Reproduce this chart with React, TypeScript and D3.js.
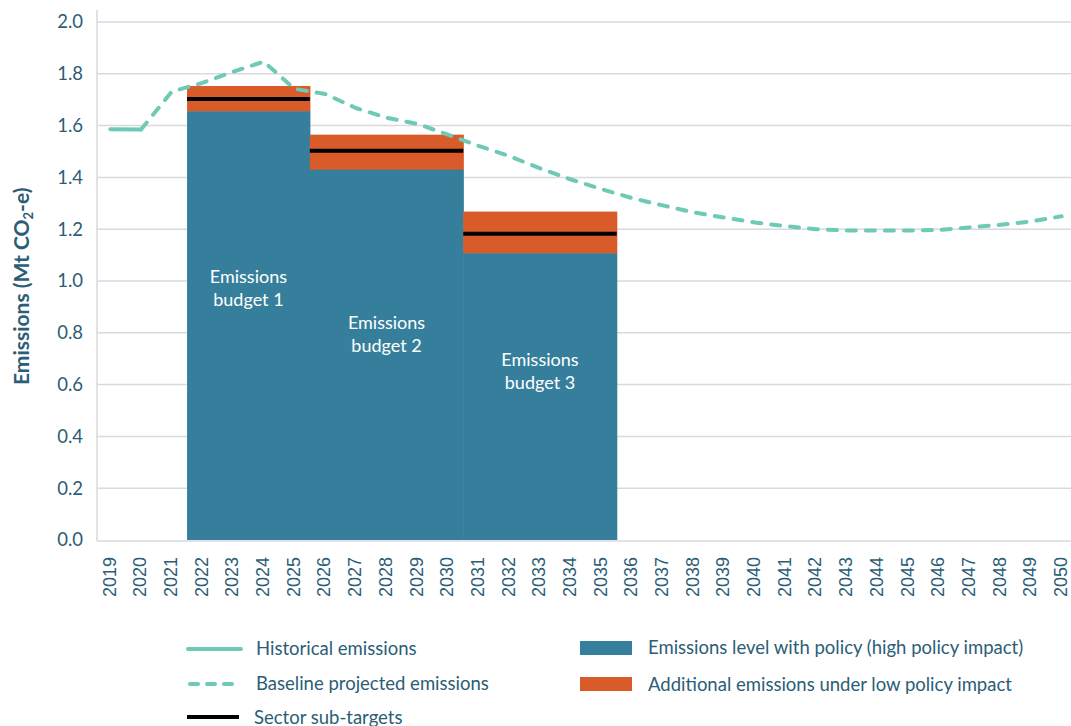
import React from "react";
import * as d3 from "d3";

const years = [
  "2019", "2020", "2021", "2022", "2023", "2024", "2025", "2026", "2027", "2028", "2029",
  "2030", "2031", "2032", "2033", "2034", "2035", "2036", "2037", "2038", "2039", "2040",
  "2041", "2042", "2043", "2044", "2045", "2046", "2047", "2048", "2049", "2050",
];

const yTicks = [0, 0.2, 0.4, 0.6, 0.8, 1.0, 1.2, 1.4, 1.6, 1.8, 2.0];

const historicalYears = ["2019", "2020"];
const historicalValues = [1.586, 1.585];

const baselineYears = [
  "2020", "2021", "2022", "2023", "2024", "2025", "2026", "2027", "2028", "2029", "2030",
  "2031", "2032", "2033", "2034", "2035", "2036", "2037", "2038", "2039", "2040", "2041",
  "2042", "2043", "2044", "2045", "2046", "2047", "2048", "2049", "2050",
];
const baselineValues = [
  1.585, 1.731, 1.765, 1.808, 1.847, 1.742, 1.722, 1.668, 1.63, 1.607, 1.565,
  1.522, 1.482, 1.435, 1.392, 1.355, 1.32, 1.292, 1.265, 1.245, 1.226, 1.212,
  1.2, 1.195, 1.195, 1.195, 1.197, 1.207, 1.217, 1.23, 1.25,
];

const budgetNames = ["Emissions budget 1", "Emissions budget 2", "Emissions budget 3"];
const budgetStart = ["2022", "2026", "2031"];
const budgetEnd = ["2025", "2030", "2035"];
const highPolicyLevel = [1.655, 1.43, 1.107];
const lowPolicyLevel = [1.753, 1.565, 1.268];
const subTargets = [1.703, 1.503, 1.182];

const legendLeft = ["Historical emissions", "Baseline projected emissions", "Sector sub-targets"];
const legendRight = [
  "Emissions level with policy (high policy impact)",
  "Additional emissions under low policy impact",
];

const W = 1071;
const H = 726;
const TEXT = "#2b5d77";
const GRID = "#d9dae0";
const BLUE = "#367f9c";
const ORANGE = "#d95b29";
const MINT = "#6ecab6";
const FONT = "Lato, 'Open Sans', sans-serif";
const labelValues = [0.97, 0.795, 0.652];

export default function App() {
  const x = d3.scaleBand<string>().domain(years).range([95, 1077]).padding(0);
  const y = d3.scaleLinear().domain([0, 2]).range([540, 22]);
  const cx = (yr: string) => (x(yr) as number) + x.bandwidth() / 2;

  const line = d3
    .line<[string, number]>()
    .x((d) => cx(d[0]))
    .y((d) => y(d[1]))
    .curve(d3.curveLinear);

  const hist: [string, number][] = historicalYears.map((yr, i) => [yr, historicalValues[i]]);
  const base: [string, number][] = baselineYears.map((yr, i) => [yr, baselineValues[i]]);

  return (
    <div style={{ position: "fixed", left: 0, top: 0 }}>
      <svg width={W} height={H} style={{ display: "block", background: "#fff" }} fontFamily={FONT}>
        {/* grid */}
        {yTicks.slice(1).map((t) => (
          <line key={t} x1={97} x2={W} y1={y(t)} y2={y(t)} stroke={GRID} strokeWidth={1.5} />
        ))}
        {/* bars */}
        {budgetNames.map((n, i) => {
          const x0 = x(budgetStart[i]) as number;
          const x1 = (x(budgetEnd[i]) as number) + x.bandwidth();
          return (
            <g key={n}>
              <rect x={x0} y={y(lowPolicyLevel[i])} width={x1 - x0 + 0.6} height={y(highPolicyLevel[i]) - y(lowPolicyLevel[i]) + 0.5} fill={ORANGE} />
              <rect x={x0} y={y(highPolicyLevel[i])} width={x1 - x0 + 0.6} height={y(0) - y(highPolicyLevel[i])} fill={BLUE} />
              <line x1={x0} x2={x1} y1={y(subTargets[i])} y2={y(subTargets[i])} stroke="#000" strokeWidth={4} />
              <text x={(x0 + x1) / 2} y={y(labelValues[i])} textAnchor="middle" fill="#fff" fontSize={18}>
                <tspan x={(x0 + x1) / 2} dy="-0.3em">{n.split(" ")[0]}</tspan>
                <tspan x={(x0 + x1) / 2} dy="1.27em">{n.split(" ").slice(1).join(" ")}</tspan>
              </text>
            </g>
          );
        })}
        {/* axes lines */}
        <line x1={97} x2={97} y1={10} y2={541} stroke={GRID} strokeWidth={1.5} />
        <line x1={97} x2={W} y1={541} y2={541} stroke={GRID} strokeWidth={1.5} />
        {/* lines */}
        <path d={line(base) || ""} fill="none" stroke={MINT} strokeWidth={4} strokeDasharray="9 10" strokeLinecap="round" strokeLinejoin="round" />
        <path d={line(hist) || ""} fill="none" stroke={MINT} strokeWidth={4} strokeLinecap="round" />
        {/* y ticks */}
        {yTicks.map((t) => (
          <text key={t} x={83} y={y(t)} dy="0.35em" textAnchor="end" fill={TEXT} fontSize={18.5}>
            {d3.format(".1f")(t)}
          </text>
        ))}
        {/* x ticks */}
        {years.map((yr) => (
          <text
            key={yr}
            transform={`translate(${cx(yr) - 1},557) rotate(-90)`}
            dy="0.35em"
            textAnchor="end"
            fill={TEXT}
            fontSize={18}
            fontFamily="'Liberation Sans', Arial, sans-serif"
          >
            {yr}
          </text>
        ))}
        {/* y title */}
        <text transform="translate(22,385) rotate(-90)" textAnchor="start" dy="0.35em" fill={TEXT} fontSize={21} fontWeight={700}>
          Emissions (Mt CO
          <tspan fontSize={13} dy="4">2</tspan>
          <tspan dy="-4">-e)</tspan>
        </text>
        {/* legend */}
        <line x1={188} x2={241} y1={649} y2={649} stroke={MINT} strokeWidth={4} strokeLinecap="round" />
        <text x={256} y={649} dy="0.35em" fill={TEXT} fontSize={18.5}>{legendLeft[0]}</text>
        <line x1={190} x2={241} y1={684} y2={684} stroke={MINT} strokeWidth={4} strokeLinecap="round" strokeDasharray="8 9" />
        <text x={256} y={684} dy="0.35em" fill={TEXT} fontSize={18.5}>{legendLeft[1]}</text>
        <line x1={187} x2={239} y1={717} y2={717} stroke="#000" strokeWidth={4} />
        <text x={254} y={723.5} fill={TEXT} fontSize={18.5}>{legendLeft[2]}</text>
        <rect x={580} y={641} width={52} height={14} fill={BLUE} />
        <text x={648} y={648} dy="0.35em" fill={TEXT} fontSize={18.5}>{legendRight[0]}</text>
        <rect x={580} y={677} width={52} height={14} fill={ORANGE} />
        <text x={648} y={685} dy="0.35em" fill={TEXT} fontSize={18.5}>{legendRight[1]}</text>
      </svg>
    </div>
  );
}
